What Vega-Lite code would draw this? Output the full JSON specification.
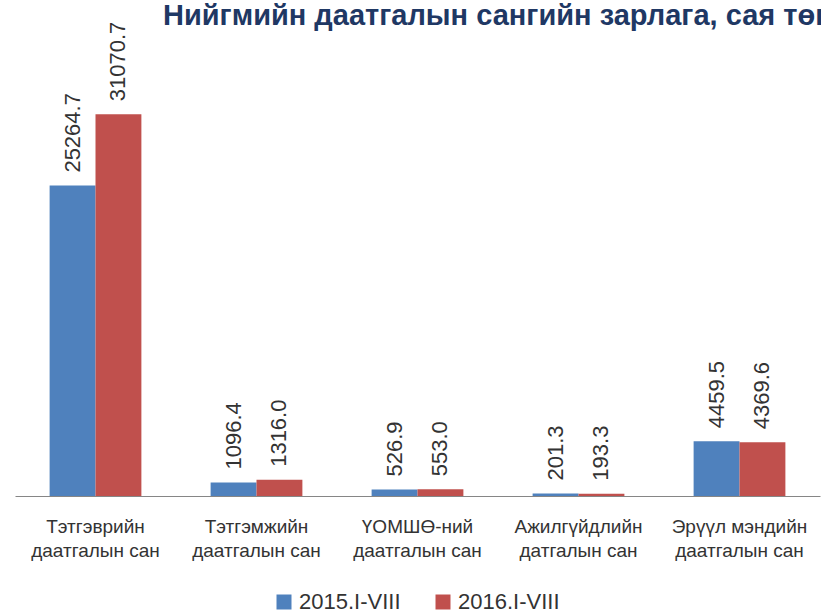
{
  "$schema": "https://vega.github.io/schema/vega-lite/v6.json",
  "autosize": "none",
  "width": 805,
  "height": 430,
  "padding": {"left": 15, "top": 66, "right": 1, "bottom": 118},
  "background": "white",
  "title": {
    "text": "Нийгмийн даатгалын сангийн зарлага, сая төгрөг",
    "anchor": "start",
    "frame": "group",
    "dx": 148,
    "offset": -32,
    "baseline": "alphabetic",
    "font": "Liberation Sans",
    "fontSize": 29,
    "fontWeight": "bold",
    "color": "#1F3864"
  },
  "data": {
    "values": [
      {"fund": "Тэтгэврийн\nдаатгалын сан", "period": "2015.I-VIII", "value": 25264.7},
      {"fund": "Тэтгэврийн\nдаатгалын сан", "period": "2016.I-VIII", "value": 31070.7},
      {"fund": "Тэтгэмжийн\nдаатгалын сан", "period": "2015.I-VIII", "value": 1096.4},
      {"fund": "Тэтгэмжийн\nдаатгалын сан", "period": "2016.I-VIII", "value": 1316.0},
      {"fund": "ҮОМШӨ-ний\nдаатгалын сан", "period": "2015.I-VIII", "value": 526.9},
      {"fund": "ҮОМШӨ-ний\nдаатгалын сан", "period": "2016.I-VIII", "value": 553.0},
      {"fund": "Ажилгүйдлийн\nдатгалын сан", "period": "2015.I-VIII", "value": 201.3},
      {"fund": "Ажилгүйдлийн\nдатгалын сан", "period": "2016.I-VIII", "value": 193.3},
      {"fund": "Эрүүл мэндийн\nдаатгалын сан", "period": "2015.I-VIII", "value": 4459.5},
      {"fund": "Эрүүл мэндийн\nдаатгалын сан", "period": "2016.I-VIII", "value": 4369.6}
    ]
  },
  "encoding": {
    "x": {
      "field": "fund",
      "type": "nominal",
      "sort": null,
      "scale": {"paddingInner": 0.43, "paddingOuter": 0.215},
      "axis": {
        "title": null,
        "labelAngle": 0,
        "labelExpr": "split(datum.label, '\\n')",
        "labelFont": "Liberation Sans",
        "labelFontSize": 19,
        "labelColor": "#333333",
        "labelLineHeight": 24,
        "labelPadding": 21,
        "ticks": false,
        "domainColor": "#868686",
        "domainWidth": 1,
        "grid": false
      }
    },
    "xOffset": {"field": "period", "type": "nominal", "sort": ["2015.I-VIII", "2016.I-VIII"]},
    "y": {
      "field": "value",
      "type": "quantitative",
      "scale": {"domain": [0, 35000]},
      "axis": null
    }
  },
  "layer": [
    {
      "mark": {"type": "bar"},
      "encoding": {
        "color": {
          "field": "period",
          "type": "nominal",
          "scale": {"domain": ["2015.I-VIII", "2016.I-VIII"], "range": ["#4F81BD", "#C0504D"]},
          "legend": {
            "title": null,
            "orient": "none",
            "legendX": 258,
            "legendY": 525,
            "direction": "horizontal",
            "symbolType": "square",
            "symbolSize": 225,
            "symbolStrokeWidth": 0,
            "labelFont": "Liberation Sans",
            "labelFontSize": 22,
            "labelColor": "#333333",
            "labelOffset": 4,
            "columnPadding": 31
          }
        }
      }
    },
    {
      "mark": {
        "type": "text",
        "angle": 270,
        "align": "left",
        "baseline": "middle",
        "dx": 13,
        "font": "Liberation Sans",
        "fontSize": 22,
        "color": "#333333"
      },
      "encoding": {
        "text": {"field": "value", "type": "quantitative", "format": ".1f"}
      }
    }
  ],
  "config": {"view": {"stroke": null}}
}
